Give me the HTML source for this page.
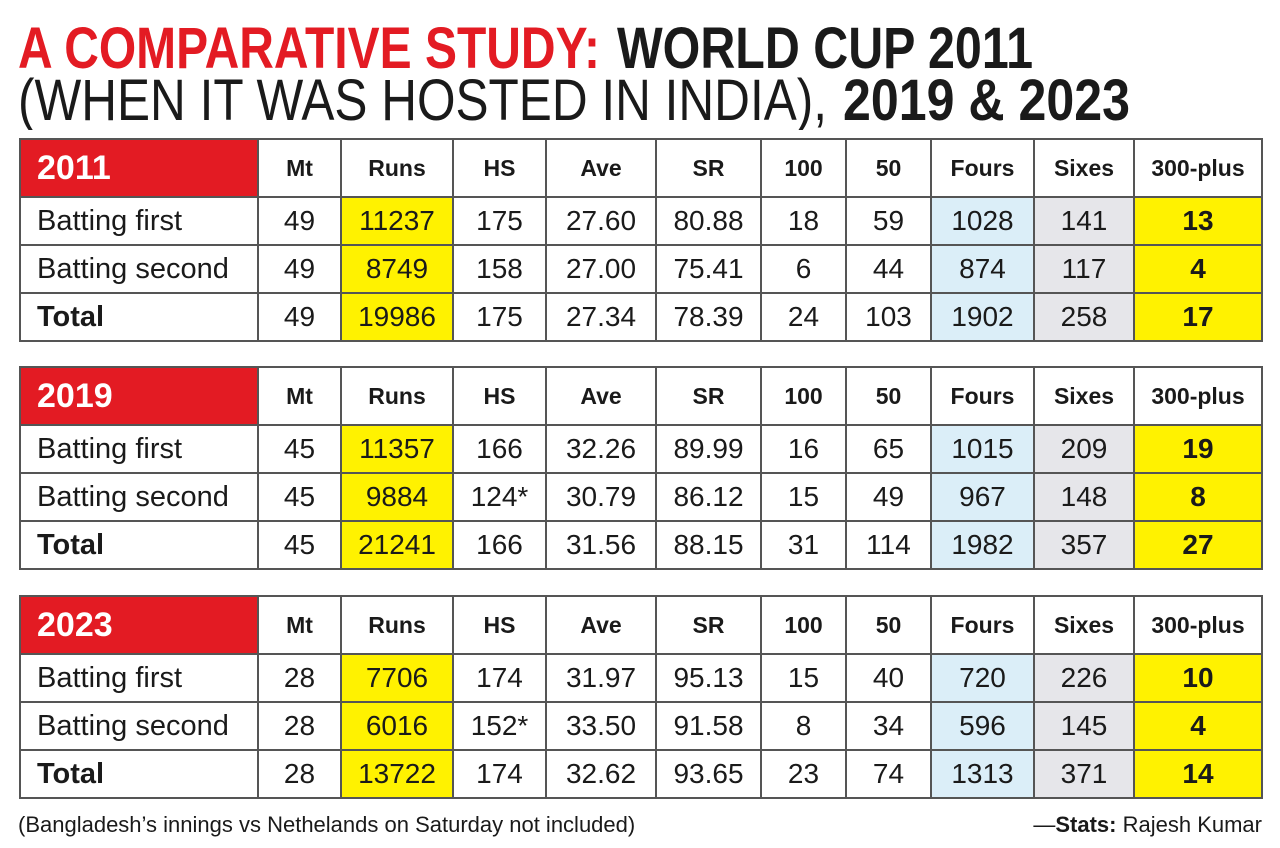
<!DOCTYPE html>
<html><head><meta charset="utf-8"><style>
body{margin:0;width:1280px;height:848px;background:#fff;position:relative;overflow:hidden;font-family:"Liberation Sans",sans-serif;color:#1a1a1a}
svg.t{position:absolute;left:0;top:0}
table{position:absolute;left:19px;border-collapse:collapse;table-layout:fixed}
td{border:2px solid #555;text-align:center;font-size:28px;padding:0;height:46px;line-height:44px;overflow:hidden}
tr.h td{height:55px;font-weight:bold;font-size:23px;line-height:46px}
tr.h td.yr{background:#e31b23;color:#fff;text-align:left;padding-left:16px;font-size:34px;line-height:56px}
td.l{text-align:left;padding-left:16px;font-size:29px}
tr.tot td.l{font-weight:bold}
.y{background:#fff200}.b{background:#dbeef8}.g{background:#e6e6ea}.yb{background:#fff200;font-weight:bold}
.f{position:absolute;top:812px;font-size:22px}
</style></head><body>
<svg class="t" width="1280" height="130">
<g font-family="Liberation Sans Narrow, Liberation Sans, sans-serif" font-size="58" font-weight="bold">
<text x="18" y="68" fill="#e31b23" textLength="582" lengthAdjust="spacingAndGlyphs">A COMPARATIVE STUDY:</text>
<text x="617" y="68" fill="#1a1a1a" textLength="416" lengthAdjust="spacingAndGlyphs">WORLD CUP 2011</text>
<text x="18" y="120" fill="#1a1a1a" font-weight="normal" textLength="809" lengthAdjust="spacingAndGlyphs">(WHEN IT WAS HOSTED IN INDIA),</text>
<text x="843" y="120" fill="#1a1a1a" textLength="287" lengthAdjust="spacingAndGlyphs">2019 &amp; 2023</text>
</g></svg>

<table style="top:138px">
<colgroup><col style="width:238px"><col style="width:83px"><col style="width:112px"><col style="width:93px"><col style="width:110px"><col style="width:105px"><col style="width:85px"><col style="width:85px"><col style="width:103px"><col style="width:100px"><col style="width:128px"></colgroup>
<tr class="h"><td class="yr">2011</td><td>Mt</td><td>Runs</td><td>HS</td><td>Ave</td><td>SR</td><td>100</td><td>50</td><td>Fours</td><td>Sixes</td><td>300-plus</td></tr>
<tr><td class="l">Batting first</td><td>49</td><td class="y">11237</td><td>175</td><td>27.60</td><td>80.88</td><td>18</td><td>59</td><td class="b">1028</td><td class="g">141</td><td class="yb">13</td></tr>
<tr><td class="l">Batting second</td><td>49</td><td class="y">8749</td><td>158</td><td>27.00</td><td>75.41</td><td>6</td><td>44</td><td class="b">874</td><td class="g">117</td><td class="yb">4</td></tr>
<tr class="tot"><td class="l">Total</td><td>49</td><td class="y">19986</td><td>175</td><td>27.34</td><td>78.39</td><td>24</td><td>103</td><td class="b">1902</td><td class="g">258</td><td class="yb">17</td></tr>
</table>

<table style="top:366px">
<colgroup><col style="width:238px"><col style="width:83px"><col style="width:112px"><col style="width:93px"><col style="width:110px"><col style="width:105px"><col style="width:85px"><col style="width:85px"><col style="width:103px"><col style="width:100px"><col style="width:128px"></colgroup>
<tr class="h"><td class="yr">2019</td><td>Mt</td><td>Runs</td><td>HS</td><td>Ave</td><td>SR</td><td>100</td><td>50</td><td>Fours</td><td>Sixes</td><td>300-plus</td></tr>
<tr><td class="l">Batting first</td><td>45</td><td class="y">11357</td><td>166</td><td>32.26</td><td>89.99</td><td>16</td><td>65</td><td class="b">1015</td><td class="g">209</td><td class="yb">19</td></tr>
<tr><td class="l">Batting second</td><td>45</td><td class="y">9884</td><td>124*</td><td>30.79</td><td>86.12</td><td>15</td><td>49</td><td class="b">967</td><td class="g">148</td><td class="yb">8</td></tr>
<tr class="tot"><td class="l">Total</td><td>45</td><td class="y">21241</td><td>166</td><td>31.56</td><td>88.15</td><td>31</td><td>114</td><td class="b">1982</td><td class="g">357</td><td class="yb">27</td></tr>
</table>

<table style="top:595px">
<colgroup><col style="width:238px"><col style="width:83px"><col style="width:112px"><col style="width:93px"><col style="width:110px"><col style="width:105px"><col style="width:85px"><col style="width:85px"><col style="width:103px"><col style="width:100px"><col style="width:128px"></colgroup>
<tr class="h"><td class="yr">2023</td><td>Mt</td><td>Runs</td><td>HS</td><td>Ave</td><td>SR</td><td>100</td><td>50</td><td>Fours</td><td>Sixes</td><td>300-plus</td></tr>
<tr><td class="l">Batting first</td><td>28</td><td class="y">7706</td><td>174</td><td>31.97</td><td>95.13</td><td>15</td><td>40</td><td class="b">720</td><td class="g">226</td><td class="yb">10</td></tr>
<tr><td class="l">Batting second</td><td>28</td><td class="y">6016</td><td>152*</td><td>33.50</td><td>91.58</td><td>8</td><td>34</td><td class="b">596</td><td class="g">145</td><td class="yb">4</td></tr>
<tr class="tot"><td class="l">Total</td><td>28</td><td class="y">13722</td><td>174</td><td>32.62</td><td>93.65</td><td>23</td><td>74</td><td class="b">1313</td><td class="g">371</td><td class="yb">14</td></tr>
</table>

<div class="f" style="left:18px">(Bangladesh’s innings vs Nethelands on Saturday not included)</div>
<div class="f" style="right:18px">—<b>Stats:</b> Rajesh Kumar</div>
</body></html>
